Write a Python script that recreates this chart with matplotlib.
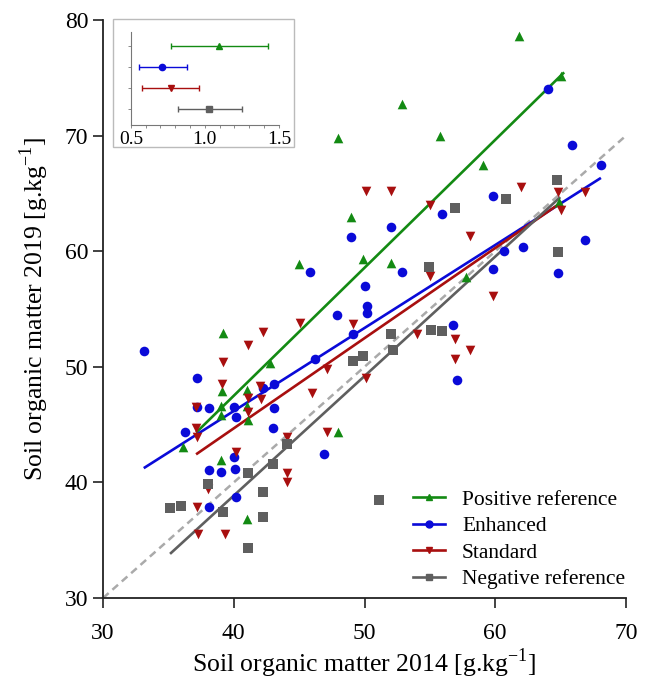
import numpy as np
import matplotlib
matplotlib.use("Agg")
import matplotlib.pyplot as plt
from matplotlib.patches import Rectangle
from matplotlib.ticker import MultipleLocator
from matplotlib.lines import Line2D

# ---------------- data ----------------
labels = ["Positive reference", "Enhanced", "Standard", "Negative reference"]

pos_x = [61.8, 65.0, 52.9, 55.8, 48.0, 59.1, 49.0, 45.0, 49.9, 52.0, 57.8, 64.9,
         39.2, 42.8, 39.1, 41.0, 39.0, 41.0, 39.0, 41.1, 36.1, 48.0, 39.0, 41.0]
pos_y = [78.6, 75.2, 72.7, 70.0, 69.8, 67.5, 63.0, 58.9, 59.3, 59.0, 57.8, 64.3,
         52.9, 50.3, 47.9, 48.0, 46.6, 46.6, 45.8, 45.4, 43.1, 44.4, 41.9, 36.8]

enh_x = [33.1, 37.2, 37.2, 38.1, 40.0, 40.2, 42.2, 43.1, 43.1, 43.0, 36.3, 46.9,
         40.0, 38.1, 39.0, 40.1, 40.2, 38.1, 45.8, 46.2, 47.9, 49.0, 49.1, 50.0,
         50.2, 50.2, 52.0, 52.9, 55.9, 56.8, 57.1, 59.8, 59.8, 60.7, 62.1, 64.0,
         64.8, 65.9, 66.9, 68.1]
enh_y = [51.4, 49.0, 46.5, 46.4, 46.5, 45.7, 48.2, 48.5, 46.4, 44.7, 44.4, 42.5,
         42.2, 41.1, 40.9, 41.2, 38.7, 37.9, 58.2, 50.7, 54.5, 61.2, 52.8, 57.0,
         55.3, 54.7, 62.1, 58.2, 63.2, 53.6, 48.9, 64.8, 58.5, 60.0, 60.4, 74.0,
         58.1, 69.2, 61.0, 67.5]

std_x = [37.1, 37.1, 37.2, 38.0, 37.2, 37.3, 39.3, 39.2, 39.1, 40.2, 41.1, 41.1,
         41.1, 42.0, 42.1, 42.2, 44.1, 44.1, 44.1, 45.1, 46.0, 47.1, 47.1, 49.1,
         50.1, 50.1, 52.0, 54.0, 55.0, 55.0, 56.9, 56.9, 58.1, 58.1, 59.8, 62.0,
         64.8, 65.0, 66.9]
std_y = [46.5, 44.7, 43.9, 39.4, 37.9, 35.5, 35.5, 50.4, 48.5, 42.6, 51.9, 47.3,
         46.1, 48.3, 47.2, 53.0, 43.9, 40.8, 40.0, 53.8, 47.7, 49.8, 44.4, 53.7,
         49.0, 65.2, 65.2, 52.8, 64.0, 57.9, 52.4, 50.7, 61.3, 51.5, 56.1, 65.6,
         65.1, 63.6, 65.1]

neg_x = [35.1, 36.0, 38.0, 39.2, 41.1, 41.1, 42.2, 42.2, 43.0, 44.1, 49.1, 49.9,
         51.1, 52.0, 52.2, 54.9, 55.1, 55.9, 56.9, 60.8, 64.7, 64.8]
neg_y = [37.8, 38.0, 39.9, 37.4, 40.8, 34.3, 39.2, 37.0, 41.6, 43.3, 50.5, 50.9,
         38.5, 52.8, 51.5, 58.6, 53.2, 53.1, 63.7, 64.5, 66.2, 59.9]

# regression fits (slope, intercept) and x-range
fit_slope = [1.107, 0.718, 0.780, 1.034]
fit_intercept = [3.22, 17.46, 13.48, -2.50]
fit_xmin = [37.2, 33.2, 37.2, 35.2]
fit_xmax = [65.2, 68.0, 65.0, 64.9]

# inset: mean with interval
inset_mean = [1.095, 0.711, 0.768, 1.029]
inset_low = [0.768, 0.552, 0.572, 0.818]
inset_high = [1.424, 0.876, 0.962, 1.248]

colors = ["#138a13", "#0a0ad8", "#a80f0f", "#5f5f5f"]
markers = ["^", "o", "v", "s"]

# ---------------- plot ----------------
plt.rcParams["font.family"] = ["Liberation Serif", "DejaVu Serif"]
plt.rcParams["mathtext.fontset"] = "custom"
plt.rcParams["mathtext.rm"] = "Liberation Serif"

fig = plt.figure(figsize=(6.48, 6.92), dpi=100)
ax = fig.add_axes([0.159, 0.1358, 0.807, 0.8352])

ax.plot([30, 70], [30, 70], ls=(0, (3, 2)), color="#aaaaaa", lw=1.8, zorder=1)

xs = [pos_x, enh_x, std_x, neg_x]
ys = [pos_y, enh_y, std_y, neg_y]
for i in range(4):
    ax.scatter(xs[i], ys[i], marker=markers[i], color=colors[i], s=48,
               linewidths=0, zorder=3)
    xx = np.array([fit_xmin[i], fit_xmax[i]])
    ax.plot(xx, fit_slope[i] * xx + fit_intercept[i], color=colors[i], lw=1.9,
            zorder=2)

ax.set_xlim(30, 70)
ax.set_ylim(30, 80)
ax.set_xticks([30, 40, 50, 60, 70])
ax.set_yticks([30, 40, 50, 60, 70, 80])
for s in ["top", "right"]:
    ax.spines[s].set_visible(False)
for s in ["left", "bottom"]:
    ax.spines[s].set_linewidth(1.3)
    ax.spines[s].set_color("#222222")
ax.tick_params(direction="out", length=7, width=1.2, labelsize=17, color="#222222")
ax.tick_params(axis="x", pad=11)
ax.set_xlabel(r"Soil organic matter 2014 [g.kg$^{\mathregular{-1}}$]", fontsize=18.5, labelpad=2)
ax.set_ylabel(r"Soil organic matter 2019 [g.kg$^{\mathregular{-1}}$]", fontsize=18.5, labelpad=10)

handles = [Line2D([], [], color=colors[i], lw=1.9, marker=markers[i], markersize=5)
           for i in range(4)]
leg = ax.legend(handles, labels, loc="lower right", bbox_to_anchor=(1.015, 0.0),
                frameon=False, fontsize=15.5, handlelength=1.5, handletextpad=0.8,
                labelspacing=0.3, borderaxespad=0.0)

# inset frame
fig.patches.append(Rectangle((0.1744, 0.7876), 0.2793, 0.185, transform=fig.transFigure,
                             fill=False, edgecolor="#bbbbbb", lw=1.0, zorder=5))
ins = fig.add_axes([0.202, 0.8194, 0.2284, 0.1344])
ins.patch.set_alpha(0)
ypos = [4, 3, 2, 1]
for i in range(4):
    ins.errorbar([inset_mean[i]], [ypos[i]],
                 xerr=[[inset_mean[i] - inset_low[i]], [inset_high[i] - inset_mean[i]]],
                 fmt=markers[i], color=colors[i], ms=4.5, lw=1.0, capsize=2.5, capthick=1.0)
ins.set_xlim(0.5, 1.5)
ins.set_ylim(0.25, 4.65)
ins.set_xticks([0.5, 1.0, 1.5])
ins.xaxis.set_minor_locator(MultipleLocator(0.1))
ins.set_yticks(ypos)
ins.set_yticklabels([])
for s in ["top", "right"]:
    ins.spines[s].set_visible(False)
for s in ["left", "bottom"]:
    ins.spines[s].set_linewidth(0.8)
    ins.spines[s].set_color("#777777")
ins.tick_params(which="both", direction="out", length=2.5, width=0.6, color="#777777",
                labelsize=14, pad=2)

fig.savefig("out.png", dpi=100)
